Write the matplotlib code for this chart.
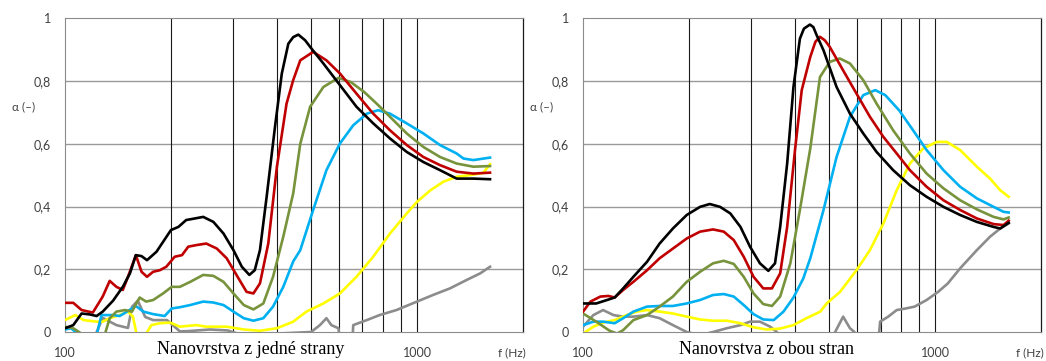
import matplotlib
matplotlib.use("Agg")
import matplotlib.pyplot as plt
from matplotlib.ticker import FuncFormatter

plt.rcParams['font.family'] = ['Lato', 'DejaVu Sans']

# --- levy graf: nanovrstva z jedne strany ---
L_black_f = [100, 105.6, 111.5, 117.7, 123, 128, 137, 146, 153, 159, 165, 171, 182, 200, 210, 221, 234, 247,
             264, 282, 301, 318, 334, 346, 358, 374, 395, 413, 431, 445, 460, 481, 497, 542, 604, 673, 751, 838,
             935, 1042, 1162, 1296, 1445, 1612]
L_black_a = [0.012, 0.022, 0.059, 0.056, 0.051, 0.065, 0.10, 0.144, 0.187, 0.245, 0.242, 0.229, 0.256, 0.325,
             0.335, 0.357, 0.362, 0.367, 0.351, 0.314, 0.261, 0.208, 0.182, 0.197, 0.261, 0.431, 0.654, 0.824,
             0.919, 0.940, 0.948, 0.930, 0.909, 0.856, 0.787, 0.718, 0.665, 0.617, 0.574, 0.542, 0.516, 0.489,
             0.489, 0.487]
L_red_f = [100, 105.6, 111.5, 120, 128, 134, 140, 146, 151, 159, 165, 171, 178, 186, 194, 205, 215, 224, 236,
           252, 270, 288, 307, 328, 343, 358, 378, 400, 426, 445, 466, 507, 553, 604, 673, 751, 838, 935, 1042,
           1162, 1296, 1445, 1612]
L_red_a = [0.093, 0.093, 0.070, 0.062, 0.113, 0.163, 0.144, 0.134, 0.176, 0.245, 0.192, 0.176, 0.192, 0.197,
           0.208, 0.240, 0.245, 0.272, 0.277, 0.282, 0.266, 0.235, 0.182, 0.128, 0.123, 0.155, 0.282, 0.527,
           0.728, 0.803, 0.866, 0.893, 0.866, 0.824, 0.760, 0.696, 0.643, 0.596, 0.558, 0.532, 0.511, 0.505,
           0.508]
L_green_f = [100, 105.6, 113, 122, 130, 134, 140, 148, 155, 163, 170, 178, 190, 201, 212, 227, 247, 264, 282,
             301, 322, 343, 366, 390, 417, 445, 466, 497, 542, 598, 648, 708, 768, 838, 935, 1042, 1162, 1296,
             1445, 1612]
L_green_a = [0.017, 0.012, -0.01, -0.02, -0.005, 0.044, 0.065, 0.070, 0.065, 0.110, 0.097, 0.102, 0.123, 0.144,
             0.144, 0.160, 0.182, 0.179, 0.160, 0.123, 0.086, 0.072, 0.091, 0.176, 0.304, 0.442, 0.60, 0.718,
             0.781, 0.810, 0.797, 0.765, 0.728, 0.686, 0.633, 0.590, 0.558, 0.537, 0.527, 0.529]
L_cyan_f = [100, 104, 110, 123, 127, 137, 143, 150, 159, 167, 178, 192, 201, 212, 227, 247, 264, 282, 301, 322,
            343, 366, 390, 417, 445, 466, 507, 553, 604, 659, 720, 775, 838, 935, 1042, 1162, 1296, 1355, 1445,
            1612]
L_cyan_a = [0.008, 0.012, -0.01, -0.01, 0.054, 0.054, 0.051, 0.065, 0.083, 0.065, 0.057, 0.051, 0.075, 0.079,
            0.086, 0.097, 0.094, 0.086, 0.065, 0.044, 0.036, 0.044, 0.081, 0.144, 0.225, 0.261, 0.389, 0.516,
            0.601, 0.659, 0.696, 0.707, 0.696, 0.665, 0.633, 0.596, 0.569, 0.553, 0.548, 0.556]
L_yellow_f = [100, 107, 113, 123, 128, 134, 143, 151, 156, 160, 169, 176, 186, 199, 212, 221, 236, 252, 288,
              322, 358, 400, 445, 485, 542, 604, 673, 751, 838, 935, 1000, 1092, 1188, 1296, 1413, 1542, 1612]
L_yellow_a = [0.038, 0.054, 0.038, 0.033, 0.033, 0.044, 0.054, 0.065, 0.049, -0.01, -0.01, 0.022, 0.028, 0.030,
              0.017, 0.019, 0.022, 0.017, 0.017, 0.008, 0.004, 0.012, 0.033, 0.065, 0.091, 0.123, 0.176, 0.240,
              0.314, 0.378, 0.415, 0.452, 0.479, 0.495, 0.500, 0.507, 0.535]
L_gray_f = [122, 128, 140, 151, 155, 161, 169, 178, 195, 212, 225, 258, 290, 320, 500, 530, 553, 571, 598, 605,
            655, 659, 720, 783, 874, 1000, 1110, 1240, 1384, 1512, 1612]
L_gray_a = [-0.01, 0.045, 0.022, 0.013, 0.08, 0.10, 0.048, 0.038, 0.038, 0.002, 0.003, 0.008, 0.005, -0.01, 0.0,
            0.022, 0.044, 0.022, 0.012, -0.03, -0.03, 0.022, 0.038, 0.054, 0.070, 0.097, 0.118, 0.139, 0.166,
            0.187, 0.208]

# --- pravy graf: nanovrstva z obou stran ---
R_black_f = [100, 109, 117, 123, 130, 139, 152, 165, 180, 197, 215, 229, 245, 262, 280, 298, 318, 336, 351, 363,
             380, 396, 413, 424, 441, 451, 461, 482, 525, 573, 625, 682, 760, 848, 946, 1056, 1178, 1314, 1466,
             1531, 1618]
R_black_a = [0.091, 0.091, 0.102, 0.110, 0.139, 0.176, 0.224, 0.282, 0.330, 0.373, 0.399, 0.408, 0.399, 0.378,
             0.335, 0.272, 0.219, 0.195, 0.219, 0.335, 0.537, 0.781, 0.935, 0.967, 0.980, 0.972, 0.946, 0.898,
             0.781, 0.696, 0.633, 0.574, 0.516, 0.468, 0.431, 0.399, 0.373, 0.351, 0.335, 0.330, 0.348]
R_red_f = [100, 105, 112, 118, 123, 130, 139, 152, 165, 180, 197, 215, 234, 251, 268, 286, 305, 325, 344, 363,
           380, 400, 418, 442, 457, 471, 486, 502, 548, 598, 653, 713, 778, 848, 946, 1056, 1178, 1314, 1466,
           1565, 1618]
R_red_a = [0.065, 0.097, 0.113, 0.115, 0.110, 0.134, 0.160, 0.197, 0.235, 0.266, 0.298, 0.320, 0.327, 0.320,
           0.293, 0.240, 0.176, 0.139, 0.139, 0.187, 0.335, 0.580, 0.771, 0.877, 0.925, 0.941, 0.930, 0.909,
           0.834, 0.760, 0.686, 0.622, 0.569, 0.516, 0.463, 0.420, 0.389, 0.362, 0.344, 0.341, 0.355]
R_green_f = [100, 109, 119, 125, 130, 139, 152, 165, 180, 197, 215, 234, 251, 268, 286, 305, 325, 344, 363, 388,
             413, 442, 471, 502, 536, 573, 625, 682, 760, 848, 946, 1056, 1178, 1314, 1466, 1565, 1618]
R_green_a = [0.059, 0.033, 0.004, -0.005, 0.006, 0.038, 0.054, 0.081, 0.113, 0.160, 0.192, 0.219, 0.227, 0.217,
             0.176, 0.123, 0.089, 0.083, 0.113, 0.219, 0.389, 0.585, 0.813, 0.861, 0.872, 0.856, 0.803, 0.728,
             0.643, 0.569, 0.505, 0.458, 0.420, 0.391, 0.367, 0.359, 0.365]
R_cyan_f = [100, 107, 114, 123, 130, 139, 152, 165, 180, 197, 215, 234, 251, 268, 286, 305, 325, 348, 371, 396,
            422, 442, 482, 525, 573, 625, 676, 722, 790, 866, 946, 1056, 1178, 1314, 1466, 1565, 1618]
R_cyan_a = [0.022, 0.033, 0.033, 0.028, 0.044, 0.065, 0.081, 0.083, 0.083, 0.091, 0.102, 0.118, 0.121, 0.113,
            0.086, 0.057, 0.040, 0.038, 0.065, 0.110, 0.170, 0.235, 0.389, 0.558, 0.686, 0.755, 0.771, 0.755,
            0.707, 0.643, 0.580, 0.516, 0.463, 0.426, 0.399, 0.383, 0.381]
R_yellow_f = [100, 107, 114, 123, 133, 142, 152, 165, 180, 197, 215, 234, 256, 280, 305, 333, 363, 396, 431, 472,
              492, 537, 598, 653, 713, 778, 848, 925, 1011, 1079, 1178, 1314, 1433, 1531, 1618]
R_yellow_a = [-0.005, 0.017, 0.030, 0.038, 0.054, 0.065, 0.070, 0.065, 0.059, 0.049, 0.040, 0.036, 0.036, 0.028,
              0.015, 0.008, 0.011, 0.022, 0.044, 0.065, 0.091, 0.128, 0.197, 0.261, 0.346, 0.452, 0.537, 0.585,
              0.606, 0.606, 0.580, 0.527, 0.489, 0.452, 0.431]
R_gray_f = [100, 107, 114, 122, 130, 139, 152, 165, 180, 197, 215, 234, 256, 280, 298, 318, 340, 355, 370, 505,
            520, 548, 573, 590, 600, 690, 698, 736, 778, 825, 875, 946, 1020, 1087, 1178, 1314, 1433, 1531, 1618]
R_gray_a = [0.017, 0.054, 0.070, 0.054, 0.049, 0.049, 0.054, 0.044, 0.022, 0.0, -0.01, 0.0, 0.012, 0.022, 0.033,
            0.033, 0.017, 0.0, -0.02, -0.02, 0.0, 0.049, 0.012, 0.0, -0.03, -0.03, 0.033, 0.049, 0.070, 0.075,
            0.081, 0.102, 0.128, 0.155, 0.203, 0.261, 0.304, 0.330, 0.346]

titles = ["Nanovrstva z jedné strany", "Nanovrstva z obou stran"]
y_ticks = [0, 0.2, 0.4, 0.6, 0.8, 1]
minor_lines = [200, 300, 400, 500, 600, 700, 800, 900, 1000]

colors = {'gray': '#8c8c8c', 'yellow': '#ffff00', 'cyan': '#00b0f0',
          'green': '#77933c', 'red': '#c00000', 'black': '#000000'}

panels = [
    [('gray', L_gray_f, L_gray_a), ('yellow', L_yellow_f, L_yellow_a), ('cyan', L_cyan_f, L_cyan_a),
     ('green', L_green_f, L_green_a), ('red', L_red_f, L_red_a), ('black', L_black_f, L_black_a)],
    [('gray', R_gray_f, R_gray_a), ('yellow', R_yellow_f, R_yellow_a), ('cyan', R_cyan_f, R_cyan_a),
     ('green', R_green_f, R_green_a), ('red', R_red_f, R_red_a), ('black', R_black_f, R_black_a)],
]

fig = plt.figure(figsize=(10.46, 3.61), dpi=100)
lefts = [0.0621, 0.5574]
title_x = [0.240, 0.733]

for i, series in enumerate(panels):
    ax = fig.add_axes([lefts[i], 0.0803, 0.4379, 0.869])
    ax.set_xscale('log')
    ax.set_xlim(100, 2000)
    ax.set_ylim(0, 1)

    for yv in y_ticks[1:-1]:
        ax.axhline(yv, color='#9a9a9a', lw=1.0, zorder=1)
    for xv in minor_lines:
        ax.axvline(xv, color='#1a1a1a', lw=0.8, zorder=1)

    for name, f, a in series:
        ax.plot(f, a, color=colors[name], lw=1.9, zorder=3, solid_joinstyle='round')

    ax.set_yticks(y_ticks)
    ax.yaxis.set_major_formatter(FuncFormatter(lambda v, p: ('%g' % v).replace('.', ',')))
    ax.set_xticks([100, 1000])
    ax.set_xticklabels(['100', '1000'])
    ax.xaxis.set_minor_locator(plt.NullLocator())
    ax.tick_params(length=0, labelsize=9, colors='#404040')
    ax.tick_params(axis='y', pad=10)
    ax.tick_params(axis='x', pad=11)

    for s in ['left', 'top', 'bottom']:
        ax.spines[s].set_color('#8c8c8c')
    ax.spines['right'].set_color('#1a1a1a')
    ax.spines['right'].set_linewidth(0.9)

    x0 = lefts[i]
    fig.text(x0 - 0.051, 0.704, 'α (–)', fontsize=8.5, color='#404040', va='center', ha='left')
    fig.text(x0 + 0.4379 + 0.003, 0.022, 'f (Hz)', fontsize=8.5, color='#404040', va='center', ha='right')
    fig.text(title_x[i], 0.032, titles[i], fontsize=13, family='Liberation Serif', va='center', ha='center')

fig.savefig('out.png', dpi=100)
